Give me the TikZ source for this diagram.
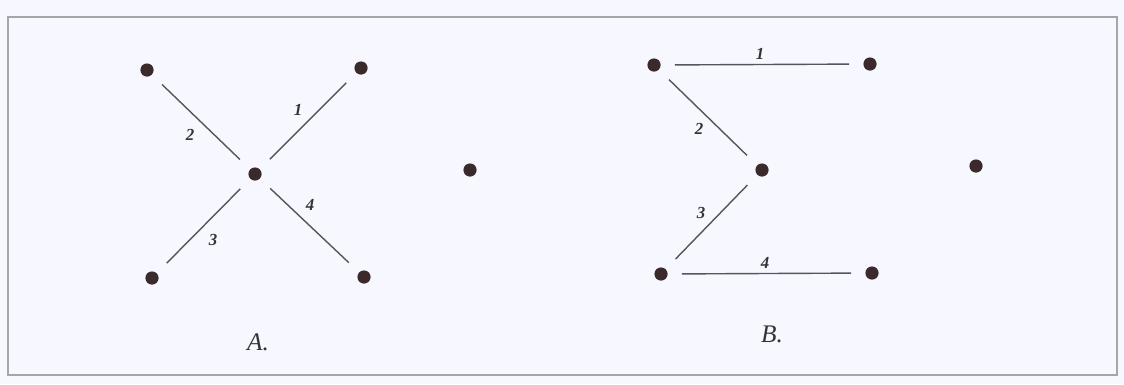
\documentclass[tikz,border=0pt]{standalone}
\usepackage{fontspec}
\setmainfont{Liberation Serif}
\usetikzlibrary{positioning}

\begin{document}
\begin{tikzpicture}[
  x=0.025cm, y=-0.025cm,
  dot/.style={circle, fill=dotcol, inner sep=0pt, minimum size=0.33cm},
  link/.style={draw=linecol, line width=1pt, shorten <=0.35cm, shorten >=0.35cm},
  num/.style={font=\fontsize{12}{14}\selectfont\itshape\bfseries, text=labcol, inner sep=1pt},
  title/.style={font=\fontsize{18}{20}\selectfont\itshape, text=labcol}
]
\definecolor{dotcol}{HTML}{3B2A2C}
\definecolor{linecol}{HTML}{55555A}
\definecolor{labcol}{HTML}{333338}

\useasboundingbox (0,0) rectangle (1124,384);
\fill[white!97!blue] (0,0) rectangle (1124,384);
\draw[gray!70, line width=0.9pt] (8,17) rectangle (1117,375);

% A
\node[dot] (aul) at (147,70) {};
\node[dot] (aur) at (361,68) {};
\node[dot] (ac) at (255,174) {};
\node[dot] (all) at (152,278) {};
\node[dot] (alr) at (364,277) {};
\node[dot] (ax) at (470,170) {};

\draw[link] (ac) -- (aur);
\draw[link] (ac) -- (aul);
\draw[link] (ac) -- (all);
\draw[link] (ac) -- (alr);

\node[num] (a1) at (298,110) {1};
\node[num] (a2) at (190,135) {2};
\node[num] (a3) at (213,240) {3};
\node[num] (a4) at (310,205) {4};
\node[title] (capa) at (258,342) {A.};

% B
\node[dot] (bul) at (654,65) {};
\node[dot] (bur) at (870,64) {};
\node[dot] (bc) at (762,170) {};
\node[dot] (bll) at (661,274) {};
\node[dot] (blr) at (872,273) {};
\node[dot] (bx) at (976,166) {};

\draw[link] (bul) -- (bur);
\draw[link] (bul) -- (bc);
\draw[link] (bll) -- (bc);
\draw[link] (bll) -- (blr);

\node[num] (b1) at (760,54) {1};
\node[num] (b2) at (699,129) {2};
\node[num] (b3) at (701,213) {3};
\node[num] (b4) at (765,263) {4};
\node[title] (capb) at (772,334) {B.};
\end{tikzpicture}
\end{document}
